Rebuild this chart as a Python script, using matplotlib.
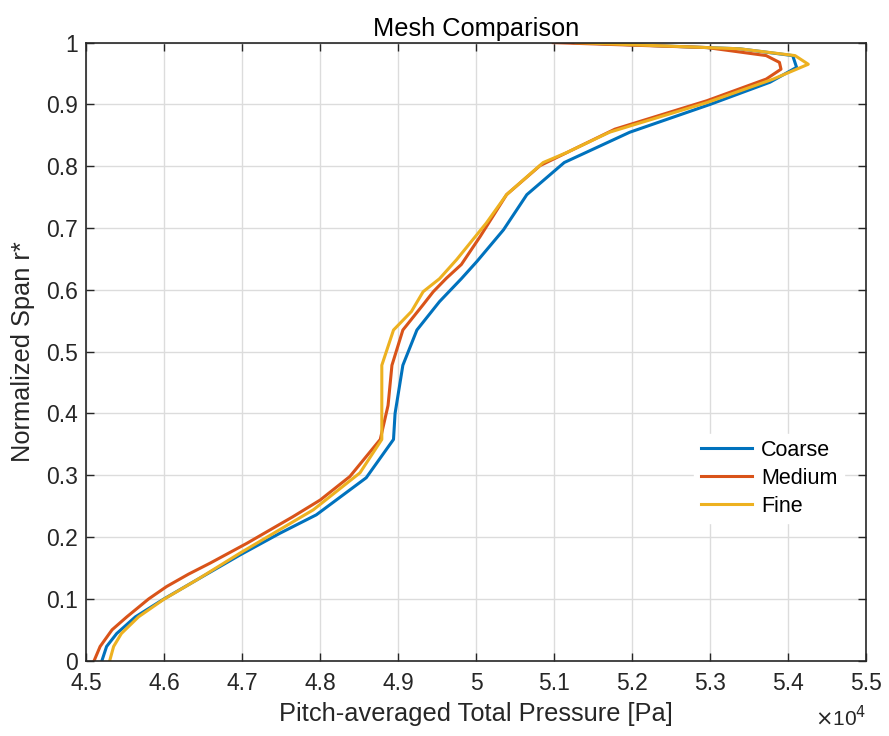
import matplotlib
matplotlib.use("Agg")
import matplotlib.pyplot as plt
from matplotlib.ticker import FuncFormatter, MultipleLocator

plt.rcParams['font.family'] = ['Liberation Sans', 'DejaVu Sans']

# Data (pressure in Pa, span normalized)
coarse_r = [0, 0.023, 0.044, 0.071, 0.0995, 0.131, 0.171, 0.206, 0.236, 0.296, 0.358, 0.40, 0.478, 0.535,
            0.581, 0.618, 0.646, 0.697, 0.754, 0.806, 0.855, 0.900, 0.936, 0.960, 0.979, 0.990, 1.0]
coarse_p = [45200, 45260, 45390, 45630, 45990, 46420, 46970, 47480, 47950, 48590, 48940, 48960, 49060, 49240,
            49530, 49810, 50010, 50350, 50650, 51130, 51970, 53000, 53770, 54110, 54060, 53380, 51240]

medium_r = [0, 0.023, 0.050, 0.071, 0.100, 0.120, 0.140, 0.158, 0.190, 0.233, 0.260, 0.298, 0.358, 0.413,
            0.478, 0.535, 0.576, 0.597, 0.619, 0.641, 0.686, 0.754, 0.801, 0.860, 0.906, 0.941, 0.957, 0.968,
            0.979, 0.992, 1.0]
medium_p = [45100, 45177, 45330, 45520, 45800, 46030, 46310, 46590, 47060, 47650, 48000, 48380, 48770, 48870,
            48920, 49060, 49320, 49450, 49620, 49810, 50050, 50390, 50820, 51780, 52960, 53720, 53910, 53890,
            53720, 52960, 50990]

fine_r = [0, 0.023, 0.044, 0.071, 0.099, 0.131, 0.174, 0.212, 0.244, 0.304, 0.358, 0.478, 0.535, 0.565, 0.597,
          0.618, 0.649, 0.708, 0.754, 0.806, 0.822, 0.855, 0.903, 0.941, 0.965, 0.979, 0.990, 1.0]
fine_p = [45300, 45350, 45450, 45670, 45990, 46420, 46970, 47480, 47910, 48510, 48790, 48790, 48940, 49170, 49320,
          49530, 49750, 50130, 50390, 50860, 51160, 51710, 52960, 53810, 54260, 54090, 53380, 51280]

labels = ['Coarse', 'Medium', 'Fine']
colors = ['#0072BD', '#D95319', '#EDB120']

fig = plt.figure(figsize=(8.89, 7.36), dpi=100)
ax = fig.add_axes([0.0971, 0.1023, 0.8770, 0.8398])

for (p, r), lab, c in zip([(coarse_p, coarse_r), (medium_p, medium_r), (fine_p, fine_r)], labels, colors):
    ax.plot(p, r, color=c, lw=2.2, label=lab)

ax.set_xlim(45000, 55000)
ax.set_ylim(0, 1)
ax.xaxis.set_major_locator(MultipleLocator(1000))
ax.yaxis.set_major_locator(MultipleLocator(0.1))
ax.xaxis.set_major_formatter(FuncFormatter(lambda v, pos: '%g' % round(v / 1e4, 4)))
ax.yaxis.set_major_formatter(FuncFormatter(lambda v, pos: '%g' % round(v, 4)))
ax.grid(True, color='#dcdcdc', lw=1.0)
ax.set_axisbelow(True)
ax.tick_params(direction='in', top=True, right=True, length=6, width=1, labelsize=16.5, colors='#262626')
ax.tick_params(axis='x', pad=8)
ax.tick_params(axis='y', pad=6)
for s in ax.spines.values():
    s.set_color('#262626')
    s.set_linewidth(1.2)

ax.set_title('Mesh Comparison', fontsize=18.3, color='black', pad=5)
ax.set_xlabel('Pitch-averaged Total Pressure [Pa]', fontsize=18.3, color='#262626', labelpad=5)
ax.set_ylabel('Normalized Span r*', fontsize=18.3, color='#262626', labelpad=8)
fig.text(0.917, 0.025, r'$\times$10$^4$', fontsize=15, color='#262626', ha='left', va='center')

leg = ax.legend(loc='upper left', bbox_to_anchor=(0.766, 0.385), frameon=True, fontsize=15.5,
                handlelength=2.4, handletextpad=0.4, labelspacing=0.32, borderpad=0.3)
leg.get_frame().set_edgecolor('white')
leg.get_frame().set_facecolor('white')
leg.get_frame().set_alpha(1)

fig.savefig('out.png', dpi=100)
